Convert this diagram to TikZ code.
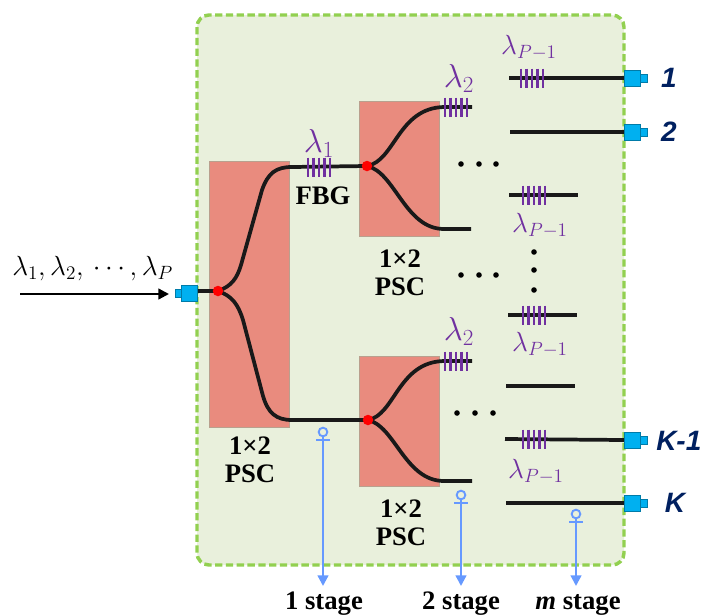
\documentclass[tikz,border=0pt]{standalone}
\usepackage{fontspec}
\setmainfont{Liberation Serif}
\newfontfamily\portfont{Liberation Sans}
\usetikzlibrary{arrows.meta}
\definecolor{boxfill}{HTML}{E9F0DC}
\definecolor{boxedge}{HTML}{92D050}
\definecolor{pscfill}{HTML}{E98B7E}
\definecolor{pscedge}{HTML}{B9A08E}
\definecolor{fbgc}{HTML}{7030A0}
\definecolor{portc}{HTML}{00B0F0}
\definecolor{stagec}{HTML}{6699FF}
\definecolor{portlab}{HTML}{002060}
\tikzset{
  x=0.75pt,y=-0.75pt,
  psc/.style={draw=pscedge,fill=pscfill,line width=0.5pt},
  fiber/.style={draw=black!90,line width=2.8pt},
  junction/.style={circle,fill=red,inner sep=0pt,minimum size=10.5pt*0.75},
  lbl/.style={font=\bfseries\fontsize{20}{21}\selectfont,align=center,inner sep=0pt,text=black},
  wave/.style={text=fbgc,inner sep=0pt,font=\fontsize{21}{23}\selectfont},
  wavesm/.style={text=fbgc,inner sep=0pt,font=\fontsize{24}{26}\selectfont},
  portlabel/.style={text=portlab,inner sep=0pt,font=\portfont\bfseries\itshape\fontsize{21}{23}\selectfont},
  dotmark/.style={circle,fill=black,inner sep=0pt,minimum size=4.2pt},
  stagearrow/.style={draw=stagec,line width=1.7pt,-{Triangle[length=8pt,width=8pt]}},
  stagering/.style={circle,draw=stagec,line width=1.4pt,inner sep=0pt,minimum size=6.5pt},
}
\newcommand{\fbgmark}[2]{%
  \foreach \d in {-11,-5.5,0,5.5,11}
    \draw[fbgc,line width=2.1pt] (#1+\d,#2-9.5) -- (#1+\d,#2+9.5);
}
\newcommand{\portright}[3]{%
  \node[draw=portc!70!black,line width=0.3pt,fill=portc,minimum width=5.6pt,minimum height=5.6pt,inner sep=0pt] (#3s) at (#1+19.5,#2) {};
  \node[draw=portc!70!black,line width=0.3pt,fill=portc,minimum width=12pt,minimum height=12pt,inner sep=0pt] (#3b) at (#1+8,#2) {};
}
\begin{document}
\begin{tikzpicture}
\useasboundingbox (0,0) rectangle (702,614);
% frame
\draw[draw=boxedge,fill=boxfill,line width=2.6pt,dash pattern=on 5.5pt off 2.6pt,rounded corners=9pt] (197,15) rectangle (624,565);
% PSC blocks
\node[psc,minimum width=60pt,minimum height=199.5pt,inner sep=0pt] (pa) at (249,294) {};
\node[psc,minimum width=60pt,minimum height=101.25pt,inner sep=0pt] (pb) at (399,168.5) {};
\node[psc,minimum width=60pt,minimum height=97.5pt,inner sep=0pt] (pc) at (399,421) {};
% junctions
\coordinate (ja) at (218,291);
\coordinate (jb) at (367,166);
\coordinate (jc) at (368,420);
\coordinate (inend) at (198,291);
% fibers
\draw[fiber] (inend) -- (ja);
\draw[fiber] (ja) .. controls (232,286) and (237,278) .. (241,265) -- (262,190) .. controls (268,173) and (276,167) .. (292,167) -- (jb);
\draw[fiber] (ja) .. controls (232,296) and (238,304) .. (243,320) -- (263,396) .. controls (268,413) and (276,420) .. (292,420) -- (jc);
\draw[fiber] (jb) .. controls (395,161) and (398,108) .. (444,107) -- (472,107);
\draw[fiber] (jb) .. controls (395,172) and (405,229) .. (444,229) -- (471,229);
\draw[fiber] (jc) .. controls (395,415) and (398,362) .. (444,361) -- (472,361);
\draw[fiber] (jc) .. controls (395,426) and (405,481) .. (444,481) -- (472,481);
% output lines
\coordinate (l1a) at (509,78);  \coordinate (l1b) at (624,78);
\coordinate (l2a) at (510,132); \coordinate (l2b) at (624,132);
\coordinate (l3a) at (509,195); \coordinate (l3b) at (578,195);
\coordinate (l4a) at (508,315); \coordinate (l4b) at (577,315);
\coordinate (l5a) at (506,386); \coordinate (l5b) at (575,386);
\coordinate (l6a) at (505,439); \coordinate (l6b) at (624,440);
\coordinate (l7a) at (506,503); \coordinate (l7b) at (624,503);
\foreach \n in {1,...,7} \draw[fiber] (l\n a) -- (l\n b);
% FBGs
\fbgmark{319}{167}
\fbgmark{456}{107}
\fbgmark{456}{361}
\fbgmark{532}{78}
\fbgmark{534}{195}
\fbgmark{534}{315}
\fbgmark{534}{439}
% junction dots
\node[junction] (dja) at (ja) {};
\node[junction] (djb) at (jb) {};
\node[junction] (djc) at (jc) {};
% ports
\portright{624}{78}{pta}
\portright{624}{132}{ptb}
\portright{624}{440}{ptc}
\portright{624}{503}{ptd}
\node[draw=portc!70!black,line width=0.3pt,fill=portc,minimum width=5.6pt,minimum height=5.6pt,inner sep=0pt] (ins) at (178.5,293) {};
\node[draw=portc!70!black,line width=0.3pt,fill=portc,minimum width=12pt,minimum height=12pt,inner sep=0pt] (inb) at (189.5,293) {};
% input
\coordinate (arrs) at (20,294);
\coordinate (arrt) at (169,294);
\draw[black,line width=1.7pt,-{Triangle[length=8pt,width=8pt]}] (arrs) -- (arrt);
\node[inner sep=0pt,anchor=base west,font=\fontsize{22}{24}\selectfont] (inlab) at (12,275) {$\lambda_1{,}\,\lambda_2{,}\,\cdots{,}\,\lambda_P$};
% wavelength labels
\node[wavesm] (w1) at (319,143) {$\lambda_1$};
\node[wavesm] (w2) at (459,78) {$\lambda_2$};
\node[wavesm] (w3) at (459,331) {$\lambda_2$};
\node[wave] (w4) at (529,48) {$\lambda_{P-1}$};
\node[wave] (w5) at (540,226) {$\lambda_{P-1}$};
\node[wave] (w6) at (540,345) {$\lambda_{P-1}$};
\node[wave] (w7) at (536,472) {$\lambda_{P-1}$};
% text labels
\node[lbl] (fbg) at (323,196) {FBG};
\node[lbl] (ta) at (250,460) {1×2\\PSC};
\node[lbl] (tb) at (400,273) {1×2\\PSC};
\node[lbl] (tc) at (401,523) {1×2\\PSC};
% dots
\foreach \x/\y/\n in {461/164/a,479/164/b,496/164/c,461/275/d,479/275/e,496/275/f,457/413/g,475/413/h,493/413/i,534/252/j,534/270/k,534/290/l}
  \node[dotmark] (d\n) at (\x,\y) {};
% port labels
\node[portlabel] (n1) at (669,78) {1};
\node[portlabel] (n2) at (669,132) {2};
\node[portlabel,anchor=west] (n3) at (656,441) {K-1};
\node[portlabel] (n4) at (675,503) {K};
% stage arrows
\node[stagering] (ra) at (323,432) {};
\node[stagering] (rb) at (461,495) {};
\node[stagering] (rc) at (576,514) {};
\node[inner sep=0pt,font=\bfseries\fontsize{20}{21}\selectfont,anchor=base] (sa) at (324,609) {1 stage};
\node[inner sep=0pt,font=\bfseries\fontsize{20}{21}\selectfont,anchor=base] (sb) at (461,609) {2 stage};
\node[inner sep=0pt,font=\bfseries\fontsize{20}{21}\selectfont,anchor=base] (sc) at (578,609) {\textit{m} stage};
\foreach \r/\sx in {ra/323,rb/461,rc/576}{
  \draw[stagearrow] (\r.south) -- (\sx,586);
  \draw[stagec,line width=1.3pt] ([xshift=-5pt,yshift=-2.2pt]\r.south) -- ([xshift=5pt,yshift=-2.2pt]\r.south);
}
\end{tikzpicture}
\end{document}
